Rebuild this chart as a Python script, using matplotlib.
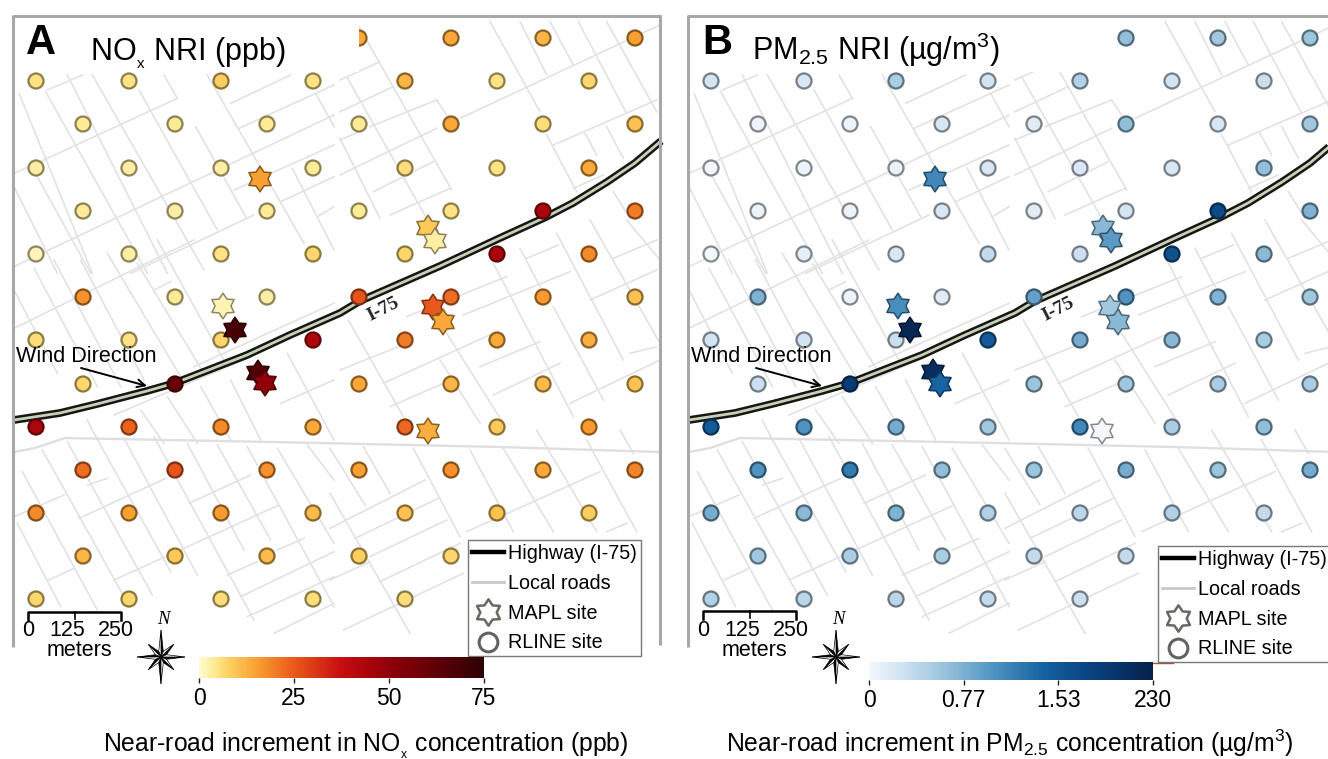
import matplotlib
matplotlib.use("Agg")
import matplotlib.pyplot as plt
import numpy as np
from matplotlib.colors import LinearSegmentedColormap, Normalize
from matplotlib.cm import ScalarMappable
from matplotlib.lines import Line2D
from matplotlib.patches import Rectangle, Polygon
from matplotlib.path import Path

plt.rcParams['font.family'] = ['Liberation Sans', 'DejaVu Sans']
plt.rcParams['mathtext.fontset'] = 'custom'
plt.rcParams['mathtext.rm'] = 'Liberation Sans'
plt.rcParams['mathtext.default'] = 'rm'

W, H = 1328, 759

# site grid (map pixels)
col_x = [36, 83, 129, 175, 221, 267, 313, 359, 405, 451, 497, 543, 589, 635]
row_y = [38, 81, 124, 168, 211, 254, 297, 340, 384, 427, 470, 513, 556, 599]
_ = None
nox_grid = [
    [_,_,_,_,_,_,_,14,_,14,_,12,_,15],
    [5,_,5,_,8,_,5,_,12,_,5,_,7,_],
    [_,4,_,4,_,4,_,4,_,14,_,6,_,10],
    [3,_,3,_,3,_,4,_,6,_,5,_,14,_],
    [_,4,_,3,_,4,_,4,_,5,_,44,_,20],
    [2,_,3,_,5,_,7,_,7,_,44,_,18,_],
    [_,17,_,4,_,3,_,26,_,22,_,16,_,10],
    [6,_,5,_,7,_,43,_,20,_,14,_,13,_],
    [_,7,_,60,_,_,_,14,_,12,_,11,_,10],
    [44,_,24,_,18,_,14,_,23,_,9,_,16,_],
    [_,22,_,26,_,17,_,15,_,17,_,14,_,19],
    [18,_,15,_,16,_,11,_,10,_,10,_,8,_],
    [_,12,_,9,_,11,_,8,_,7,_,_,_,_],
    [7,_,7,_,6,_,6,_,6,_,_,_,_,_],
]
pm_grid = [
    [_,_,_,_,_,_,_,_,_,.65,_,.55,_,.6],
    [.25,_,.2,_,.5,_,.25,_,.45,_,.25,_,.3,_],
    [_,.05,_,.05,_,.2,_,.15,_,.65,_,.2,_,.55],
    [.02,_,.05,_,.08,_,.2,_,.2,_,.2,_,.65,_],
    [_,.05,_,.05,_,.2,_,.15,_,.25,_,1.7,_,.75],
    [0,_,.1,_,.2,_,.35,_,.3,_,1.6,_,.7,_],
    [_,.75,_,.05,_,.15,_,.9,_,1.0,_,.75,_,.55],
    [.25,_,.25,_,.3,_,1.5,_,.8,_,.7,_,.5,_],
    [_,.3,_,1.9,_,_,_,.6,_,.55,_,.5,_,.5],
    [1.5,_,1.0,_,.8,_,.55,_,1.1,_,.5,_,.65,_],
    [_,1.0,_,1.2,_,.65,_,.6,_,.8,_,.6,_,.8],
    [.8,_,.7,_,.75,_,.45,_,.4,_,.45,_,.35,_],
    [_,.55,_,.5,_,.5,_,.35,_,.35,_,_,_,_],
    [.45,_,.4,_,.4,_,.35,_,.3,_,_,_,_,_],
]
star_x_nox = [260, 428, 435, 223, 235, 258, 265, 433, 443, 428]
star_y_nox = [179, 228, 241, 306, 330, 373, 383, 307, 322, 431]
star_nox = [15, 9, 3, 2, 68, 66, 50, 25, 14, 13]
star_x_pm = [260, 428, 436, 223, 235, 258, 265, 435, 443, 427]
star_y_pm = [179, 228, 240, 306, 330, 372, 384, 308, 322, 431]
star_pm = [1.1, .7, .95, 1.05, 2.2, 2.1, 1.4, .55, .7, 0]

highway_x = [14, 60, 97, 147, 175, 247, 290, 340, 360, 440, 500, 546, 573, 607, 635, 661]
highway_y = [420, 413, 404, 391, 383, 355, 335, 313, 301, 266, 238, 217, 203, 182, 163, 141]

# streets: (crop x, crop y, [segments in 3x crop units])
roads_sw = (14, 430, [
    (25,125,250,540),(85,60,330,500),(160,35,415,495),(240,10,470,425),(330,25,550,435),(420,20,720,570),
    (520,40,690,360),(610,45,770,330),(700,50,960,530),(790,55,960,340),(880,45,960,150),(10,280,140,530),
    (0,260,150,195),(195,265,455,145),(525,220,710,135),(220,165,280,145),(510,355,795,225),(300,450,510,355),
    (105,450,180,415),(640,435,730,395),(680,500,960,365),(700,560,960,440),(780,610,960,520),(790,360,870,325)])
roads_se = (330, 430, [
    (0,55,105,225),(100,50,180,190),(250,55,390,320),(420,60,550,305),(520,55,670,305),(620,0,800,305),
    (770,30,920,305),(870,0,910,70),(0,190,240,610),
    (0,295,285,150),(75,325,325,205),(120,380,350,270),(0,450,120,395),(150,455,390,340),(40,600,400,430),
    (410,305,810,125),(830,305,890,280)])
roads_nw = (14, 70, [
    (15,70,235,610),(95,65,400,610),(160,15,460,610),(235,15,570,600),(375,60,610,480),(545,170,695,440),
    (450,15,490,85),(580,15,870,520),(835,295,960,540),(905,70,960,170),(0,350,130,610),(70,320,230,610),
    (100,60,205,15),(100,265,490,85),(0,310,100,265),(115,535,590,310),(590,310,960,135),(650,100,830,15),
    (675,175,960,45),(660,360,960,225),(350,610,720,435),(800,395,960,320),(910,440,960,410),(0,590,115,535)])
roads_ne = (340, 15, [
    (40,5,335,525),(20,185,260,610),(0,370,120,610),(290,255,320,300),(450,20,600,290),(620,360,710,530),
    (540,20,620,180),(630,20,700,150),(715,20,860,295),(800,20,950,290),(735,355,770,420),(800,335,850,430),
    (820,530,870,610),(0,195,120,140),(0,290,160,215),(90,335,290,255),(0,375,70,345),(0,480,290,340),
    (360,310,960,30),(100,530,280,440),(150,600,330,520),(640,390,950,255),(700,520,790,480)])
roads_e = (340, 220, [
    (455,120,700,590),(540,85,600,200),(650,40,850,420),(750,0,960,370),(860,0,960,120),(640,260,790,540),
    (25,300,190,590),(320,340,490,610),(300,420,420,610),(130,490,460,340),(0,450,200,370),(200,290,500,170),
    (370,285,690,155),(420,440,600,365),(460,525,660,430),(560,115,655,75),(750,240,950,150),(820,115,950,60),
    (690,550,960,420),(150,560,310,490),(870,400,950,380)])
roads_w = (14, 240, [
    (0,150,130,400),(60,85,250,440),(120,60,320,440),(200,60,390,420),(280,40,500,410),(370,70,570,400),
    (430,0,640,380),(650,420,740,600),(560,440,650,600),(460,470,550,610),(380,510,450,610),(220,540,250,600),
    (820,340,960,600),(0,265,540,0),(420,150,470,125),(540,380,960,190),(300,525,700,355),(800,490,960,420)])
road_groups = [roads_sw, roads_se, roads_nw, roads_ne, roads_e, roads_w]
cross_road_x = [14, 35, 65, 320, 500, 660]
cross_road_y = [452, 448, 438, 443, 447, 452]

nox_nodes = [(0, '#fffbd0'), (.05, '#feeb96'), (.1, '#fdd263'), (.2, '#f9a032'), (.33, '#ea5a1c'),
             (.5, '#c80c10'), (.67, '#8f0008'), (.85, '#5a0008'), (1, '#2d0005')]
pm_nodes = [(0, '#f2f7fc'), (.12, '#cfe1f1'), (.28, '#93bfda'), (.45, '#4a8fbe'),
            (.62, '#14609f'), (.8, '#0a3f7c'), (1, '#08204a')]
cmap_nox = LinearSegmentedColormap.from_list('nox', nox_nodes)
cmap_pm = LinearSegmentedColormap.from_list('pm', pm_nodes)
hexagram = Path.unit_regular_star(6, innerCircle=0.62)

fig = plt.figure(figsize=(W/100, H/100), dpi=100)


def px_axes(x0, y0, x1, y1, **kw):
    return fig.add_axes([x0/W, 1-y1/H, (x1-x0)/W, (y1-y0)/H], **kw)


def compass(ax, cx, cy):
    for k in range(8):
        a = k*np.pi/4
        r = 27 if k % 4 == 0 else (24 if k % 2 == 0 else 18)
        tip = (cx+r*np.sin(a), cy-r*np.cos(a))
        for sgn, col in ((1, 'black'), (-1, 'white')):
            b = a+sgn*np.pi/8
            base = (cx+6*np.sin(b), cy-6*np.cos(b))
            ax.add_patch(Polygon([(cx, cy), base, tip], closed=True, fc=col, ec='black', lw=.5, zorder=6))
    ax.text(cx+2, cy-37, 'N', family='Liberation Serif', style='italic', fontsize=13.5, ha='center', va='center', zorder=6)


def panel(ax, grid, sx, sy, sv, cmap, norm, letter, letter_x, title, title_x, cover_right,
          legend_xy, scale_y, xlabel, xlabel_x, closed):
    ax.set_xlim(0, ax._w)
    ax.set_ylim(H, 0)
    ax.axis('off')
    # streets
    for ox, oy, segs in road_groups:
        for x0, y0, x1, y1 in segs:
            ax.plot([ox+x0/3, ox+x1/3], [oy+y0/3, oy+y1/3], color='#e2e2e5', lw=1.2, zorder=1)
    ax.plot(cross_road_x, cross_road_y, color='#dfdfe2', lw=1.7, zorder=1)
    ax.add_patch(Rectangle((14, 634), 650, 130, fc='white', ec='none', zorder=1.5))
    # highway
    ax.plot(highway_x, highway_y, color='#14180f', lw=5.6, zorder=2, solid_joinstyle='round', solid_capstyle='butt')
    ax.plot(highway_x, highway_y, color='#c9cfbd', lw=2.0, zorder=2.1, solid_joinstyle='round', solid_capstyle='butt')
    # RLINE sites
    xs, ys, vs = [], [], []
    for i, row in enumerate(grid):
        for j, v in enumerate(row):
            if v is not None:
                xs.append(col_x[j]); ys.append(row_y[i]); vs.append(v)
    edges = np.array(cmap(norm(vs)))
    edges[:, :3] *= .55
    ax.scatter(xs, ys, c=vs, cmap=cmap, norm=norm, s=117, edgecolors=edges, linewidths=1.6, zorder=3)
    # MAPL sites
    sedges = np.array(cmap(norm(sv)))
    sedges[:, :3] *= .55
    ax.scatter(sx, sy, c=sv, cmap=cmap, norm=norm, s=340, marker=hexagram, edgecolors=sedges, linewidths=1.1, zorder=4)
    # title cover and frame
    ax.add_patch(Rectangle((15, 18), cover_right-15, 54, fc='white', ec='none', zorder=5))
    frame = dict(color='#a8a8a8', lw=2.2, zorder=5, solid_capstyle='butt')
    ax.plot([13, 13], [15, 647], **frame)
    ax.plot([13, 661 if closed else ax._w], [15.5, 15.5], **frame)
    if closed:
        ax.plot([660, 660], [15, 645], **frame)
    ax.text(letter_x, 43, letter, fontsize=30, fontweight='bold', ha='left', va='center', zorder=6)
    ax.text(title_x, 60, title, fontsize=22, ha='left', va='baseline', zorder=6)
    # wind
    ax.text(16, 356, 'Wind Direction', fontsize=15.6, ha='left', va='center', zorder=6)
    ax.annotate('', xy=(147, 386), xytext=(81, 368), zorder=6,
                arrowprops=dict(arrowstyle='->', color='black', lw=1.4, shrinkA=0, shrinkB=0, mutation_scale=14))
    ax.text(383, 309, 'I-75', family='Liberation Serif', fontweight='bold', fontsize=14, rotation=27,
            ha='center', va='center', color='#222', zorder=6)
    # scale bar
    sb = [28, 75, 121]
    ax.plot([sb[0], sb[0], sb[2], sb[2]], [scale_y+8, scale_y, scale_y, scale_y+8], color='black', lw=1.8, zorder=6)
    ax.plot([sb[1], sb[1]], [scale_y, scale_y+7], color='black', lw=1.2, zorder=6)
    for tx, lab in zip([28, 67, 116], ['0', '125', '250']):
        ax.text(tx, scale_y+19, lab, fontsize=15.5, ha='center', va='center', zorder=6)
    ax.text(79, scale_y+39, 'meters', fontsize=15.5, ha='center', va='center', zorder=6)
    compass(ax, 161, 657)
    # legend
    handles = [Line2D([], [], color='black', lw=3.2),
               Line2D([], [], color='#c8c8c8', lw=2),
               Line2D([], [], marker=hexagram, ls='', ms=19, mfc='white', mec='#666a60', mew=1.8),
               Line2D([], [], marker='o', ls='', ms=13.5, mfc='white', mec='#5f645c', mew=2.2)]
    leg = ax.legend(handles, ['Highway (I-75)', 'Local roads', 'MAPL site', 'RLINE site'], loc='upper left',
                    bbox_to_anchor=legend_xy, bbox_transform=ax.transData, fontsize=14.2, frameon=True,
                    fancybox=False, edgecolor='#777777', framealpha=1, borderpad=.2, labelspacing=.55,
                    handlelength=1.6, handletextpad=.22, borderaxespad=0)
    leg.set_zorder(7)
    leg.get_frame().set_linewidth(1.0)
    ax.text(xlabel_x, 752, xlabel, fontsize=17.8, ha='center', va='baseline', zorder=6)


def cbar(x0, y0, x1, y1, cmap, norm, ticks, labels):
    cax = px_axes(x0, y0, x1, y1)
    cb = fig.colorbar(ScalarMappable(norm=norm, cmap=cmap), cax=cax, orientation='horizontal')
    cb.set_ticks(ticks)
    cb.set_ticklabels(labels)
    cb.ax.tick_params(length=3.5, width=1, labelsize=16.5, pad=3, color='#222')
    cb.outline.set_visible(False)
    return cb


axA = px_axes(0, 0, 664, H)
axA._w = 664
axB = px_axes(675, 0, W, H)
axB._w = W-675

norm_nox = Normalize(0, 75)
norm_pm = Normalize(0, 2.3)

panel(axA, nox_grid, star_x_nox, star_y_nox, star_nox, cmap_nox, norm_nox, 'A', 26,
      r'NO$_{_{x}}$ NRI (ppb)', 90, 359, (468, 540), 612,
      r'Near-road increment in NO$_{_{x}}$ concentration (ppb)', 366, True)
panel(axB, pm_grid, star_x_pm, star_y_pm, star_pm, cmap_pm, norm_pm, 'B', 27,
      r'PM$_{2.5}$ NRI (µg/m$^{3}$)', 77, 400, (483, 546), 611,
      r'Near-road increment in PM$_{2.5}$ concentration (µg/m$^{3}$)', 335, False)

cbar(199, 657, 484, 678, cmap_nox, norm_nox, [0, 25, 50, 75], ['0', '25', '50', '75'])
cbar(869, 662, 1153, 680, cmap_pm, norm_pm, [0, .767, 1.533, 2.3], ['0', '0.77', '1.53', '230'])
axB.plot([478, 498], [663, 663], color='#a05040', lw=1, zorder=6)

fig.savefig('out.png', dpi=100, facecolor='white')
